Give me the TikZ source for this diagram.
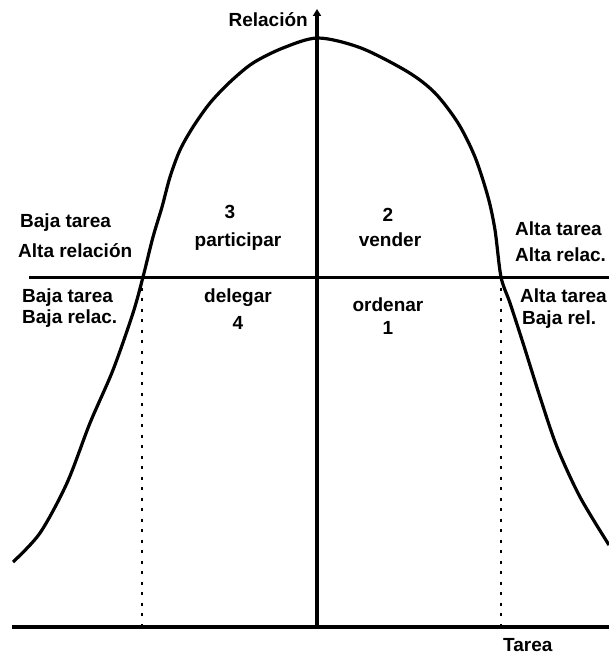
\documentclass[tikz,border=0pt]{standalone}
\usepackage{fontspec}
\setmainfont{Liberation Sans}
\usetikzlibrary{positioning,arrows.meta}

\begin{document}
\begin{tikzpicture}[x=1pt,y=-1pt,>={Triangle[length=7pt,width=8pt]},
  lbl/.style={font=\bfseries\fontsize{19}{21}\selectfont,inner sep=0pt},
  axis/.style={line width=3.4pt},
  guide/.style={line width=2.6pt,dash pattern=on 3pt off 7.5pt}]
\useasboundingbox (0,0) rectangle (609,660);
% axes and guide lines
\coordinate (O) at (317,627);
\coordinate (top) at (317,9);
\coordinate (xl) at (12,627);
\coordinate (xr) at (609,627);
\coordinate (ml) at (29,277);
\coordinate (mr) at (609,277);
\coordinate (cl) at (142,277);
\coordinate (cr) at (501,277);
\coordinate (bl) at (142,627);
\coordinate (br) at (501,627);
\draw[axis] (xl) -- (xr);
\draw[axis,line width=3pt] (ml) -- (mr);
\draw[axis,->] (O) -- (top);
\draw[guide] (cl) -- (bl);
\draw[guide] (cr) -- (br);
% bell curve
\draw[line width=3.2pt,line join=round] plot[smooth] coordinates {
  (13,562) (40,533) (67,483) (90,423) (113,370) (133,313) (143,277)
  (153,237) (162,207) (170,177) (180,150) (193,127) (210,103) (230,82)
  (253,63) (283,48) (318,38) (361,48) (408,72) (435,93) (458,123)
  (475,157) (488,197) (495,230) (501,277) (510,303) (523,343)
  (540,397) (557,447) (580,497) (609,545)};
% axis names
\node[lbl,anchor=east] (rel) at (308,20) {Relación};
\node[lbl,anchor=west] (tar) at (503,645) {Tarea};
% quadrants
\node[lbl] (n3) at (230,212) {3};
\node[lbl] (part) at (238,242) {participar};
\node[lbl] (n2) at (388,215) {2};
\node[lbl] (vend) at (390,240) {vender};
\node[lbl] (deleg) at (238,298) {delegar};
\node[lbl] (n4) at (238,323) {4};
\node[lbl] (orden) at (388,305) {ordenar};
\node[lbl] (n1) at (388,328) {1};
% side labels
\node[lbl,anchor=west] (btA) at (20,223) {Baja tarea};
\node[lbl,anchor=west] (arA) at (18,251) {Alta relación};
\node[lbl,anchor=west] (btB) at (22,298) {Baja tarea};
\node[lbl,anchor=west] (brB) at (22,319) {Baja relac.};
\node[lbl,anchor=west] (atA) at (515,229) {Alta tarea};
\node[lbl,anchor=west] (arC) at (515,255) {Alta relac.};
\node[lbl,anchor=west] (atB) at (520,296) {Alta tarea};
\node[lbl,anchor=west] (brC) at (522,320) {Baja rel.};
\end{tikzpicture}
\end{document}
